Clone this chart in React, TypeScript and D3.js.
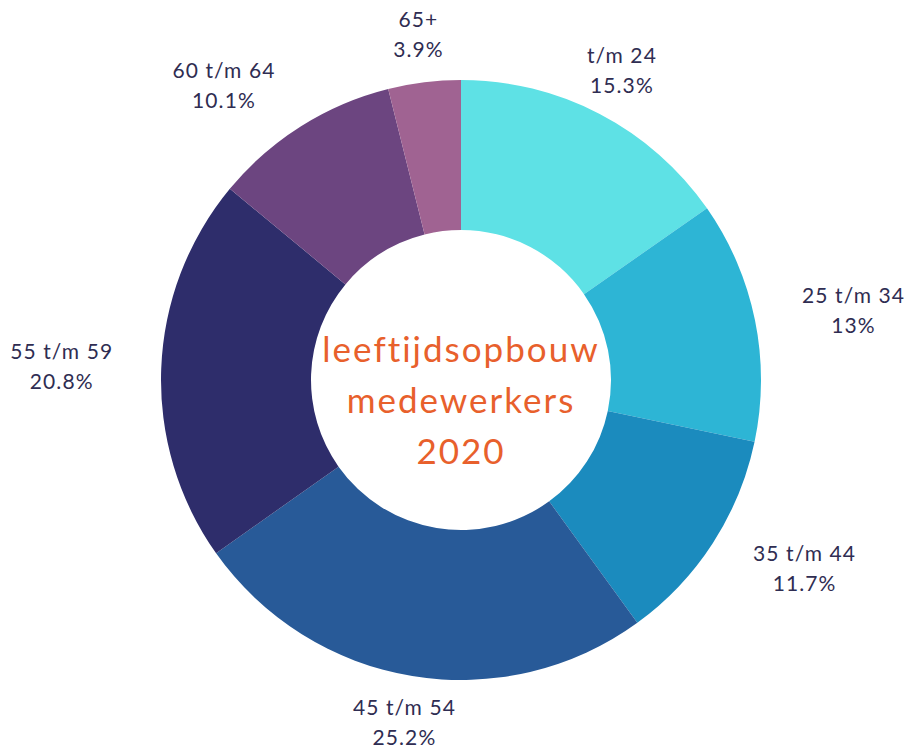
import React from "react";
import * as d3 from "d3";

const categories = ["t/m 24", "25 t/m 34", "35 t/m 44", "45 t/m 54", "55 t/m 59", "60 t/m 64", "65+"];
const values = [15.3, 13, 11.7, 25.2, 20.8, 10.1, 3.9];
const valueLabels = ["15.3%", "13%", "11.7%", "25.2%", "20.8%", "10.1%", "3.9%"];
const colors = ["#5ee1e5", "#2db5d5", "#1b8bbe", "#285a98", "#2e2d6b", "#6c4580", "#a06392"];
const titleLines = ["leeftijdsopbouw", "medewerkers", "2020"];

const FONT = "Lato, 'Noto Sans', sans-serif";
const LABEL_SIZE = 21;
const LABEL_SPACING = 1.1;

function measure(text: string, size: number, spacing: number): number {
  if (typeof document === "undefined") return text.length * size * 0.5;
  const c = document.createElement("canvas");
  const ctx = c.getContext("2d");
  if (!ctx) return text.length * size * 0.5;
  ctx.font = `${size}px Lato`;
  return ctx.measureText(text).width + spacing * text.length;
}

export default function App() {
  const W = 910, H = 752;
  const cx = 461, cy = 380;
  const outerR = 300, innerR = 150;
  const labelR = 348;
  const pie = d3.pie<number>().sort(null).value((d) => d);
  const arcs = pie(values);
  const arc = d3.arc<d3.PieArcDatum<number>>().innerRadius(innerR).outerRadius(outerR);
  return (
    <svg width={W} height={H} style={{ position: "absolute", left: 0, top: 0, background: "#fff" }}>
      <g transform={`translate(${cx},${cy})`}>
        {arcs.map((a, i) => (
          <path key={i} d={arc(a) || ""} fill={colors[i]} />
        ))}
        {arcs.map((a, i) => {
          const mid = (a.startAngle + a.endAngle) / 2;
          const s = Math.sin(mid);
          const ax = labelR * s;
          const ay = -labelR * Math.cos(mid);
          const bw = Math.max(
            measure(categories[i], LABEL_SIZE, LABEL_SPACING),
            measure(valueLabels[i], LABEL_SIZE, LABEL_SPACING)
          );
          let x = ax;
          if (s > 0.5) x = ax + bw / 2;
          else if (s < -0.5) x = ax - bw / 2;
          return (
            <g key={"l" + i} fontFamily={FONT} fontSize={LABEL_SIZE} fill="#2f2d52" textAnchor="middle" letterSpacing={LABEL_SPACING}>
              <text x={x} y={ay - 8}>{categories[i]}</text>
              <text x={x} y={ay + 22}>{valueLabels[i]}</text>
            </g>
          );
        })}
        {titleLines.map((t, i) => (
          <text key={"t" + i} x={0} y={-18 + i * 51} textAnchor="middle" fontFamily={FONT} fontSize={35} letterSpacing={2} fill="#e8602c">
            {t}
          </text>
        ))}
      </g>
    </svg>
  );
}
